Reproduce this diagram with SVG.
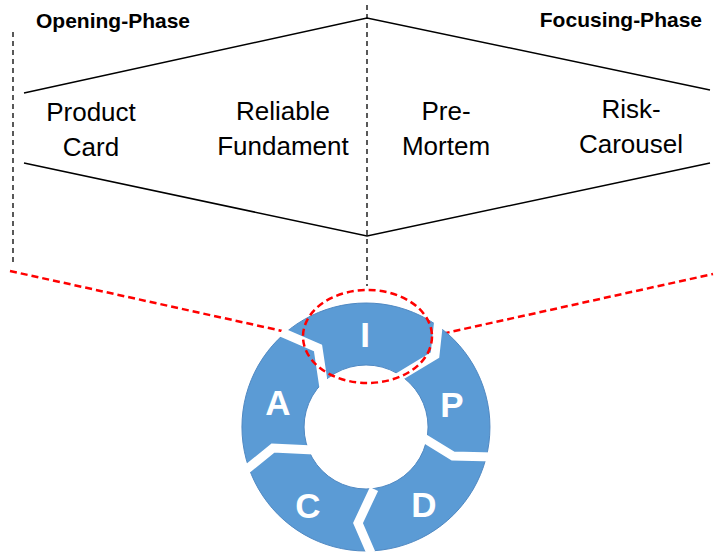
<svg xmlns="http://www.w3.org/2000/svg" width="715" height="553" viewBox="0 0 715 553">
<style>
.lbl{font-family:"Liberation Sans",Arial,sans-serif;font-size:26px;fill:#000;text-anchor:middle}
.hdr{font-family:"Liberation Sans",Arial,sans-serif;font-size:21px;font-weight:bold;fill:#000}
.seg{font-family:"Liberation Sans",Arial,sans-serif;font-size:35px;font-weight:bold;fill:#fff;text-anchor:middle}
.ln{stroke:#000;stroke-width:1.5;fill:none}
.dash{stroke:#000;stroke-width:1.3;stroke-dasharray:5,4;fill:none}
.red{stroke:#f00;stroke-width:2.5;stroke-dasharray:7,4;fill:none}
.gap{stroke:#fff;stroke-width:9;fill:none;stroke-linejoin:miter}
</style>
<rect width="715" height="553" fill="#fff"/>
<g id="connectors">
<line class="dash" x1="13" y1="32" x2="13" y2="265"/>
<line class="dash" x1="367" y1="5" x2="367" y2="286"/>
<polyline class="ln" points="24,93 367,18 710,90"/>
<polyline class="ln" points="24,163 367,236 710,163"/>
<line class="red" x1="10" y1="271" x2="305" y2="336"/>
<line class="red" x1="432" y1="336" x2="713" y2="274"/>
</g>
<g id="headers">
<text class="hdr" x="36" y="28">Opening-Phase</text>
<text class="hdr" x="702" y="27" text-anchor="end">Focusing-Phase</text>
</g>
<g id="product-card"><text class="lbl" x="91" y="121">Product</text><text class="lbl" x="91" y="156">Card</text></g>
<g id="reliable-fundament"><text class="lbl" x="283" y="120">Reliable</text><text class="lbl" x="283" y="155">Fundament</text></g>
<g id="pre-mortem"><text class="lbl" x="446" y="120">Pre-</text><text class="lbl" x="446" y="155">Mortem</text></g>
<g id="risk-carousel"><text class="lbl" x="631" y="118">Risk-</text><text class="lbl" x="631" y="153">Carousel</text></g>
<g id="cycle">
<path d="M366,303 A124,124 0 1,1 365.9,303 Z M366,365 A62,62 0 1,0 366.1,365 Z" fill="#5B9BD5" fill-rule="evenodd" stroke="#4F88C2" stroke-width="1"/>
<polyline class="gap" points="281,332 318,348 324,388"/>
<polyline class="gap" points="439,318 435,355 397,378"/>
<polyline class="gap" points="422,437 453,456 494,457"/>
<polyline class="gap" points="374,489 358,523 371,553"/>
<polyline class="gap" points="241,474 273,448 314,450"/>
<text class="seg" x="365" y="347">I</text>
<text class="seg" x="278" y="415">A</text>
<text class="seg" x="452" y="417">P</text>
<text class="seg" x="308" y="518">C</text>
<text class="seg" x="424" y="517">D</text>
</g>
<g id="focus-ellipse"><ellipse class="red" cx="367.5" cy="336.5" rx="64.5" ry="46.5"/></g>
</svg>
